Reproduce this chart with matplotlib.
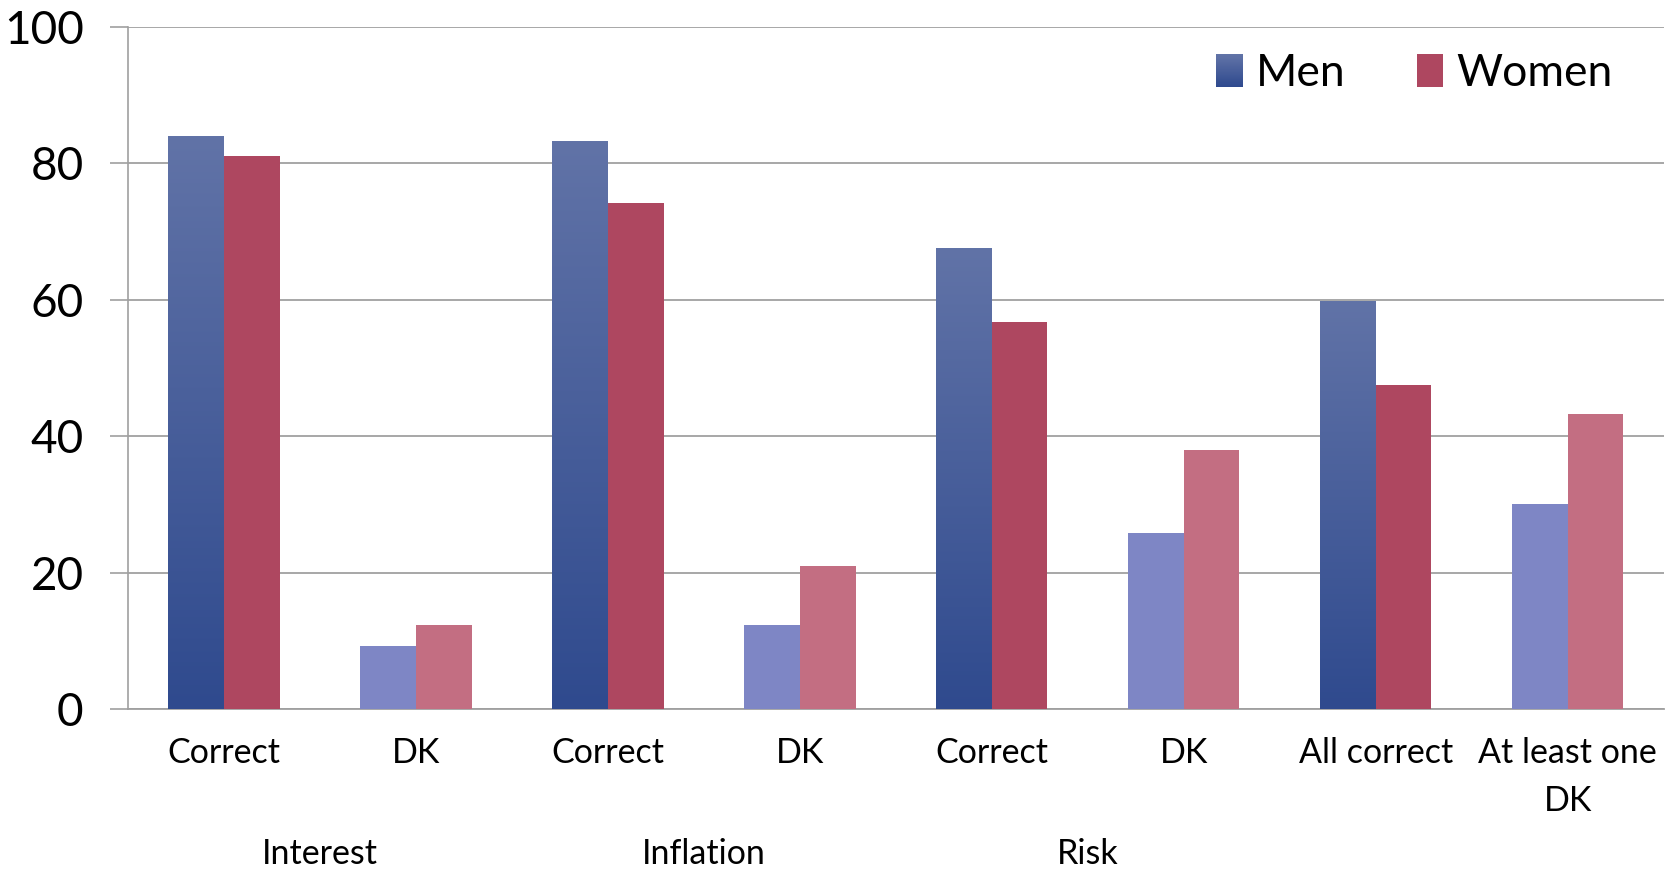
import numpy as np
import matplotlib.pyplot as plt
from matplotlib.colors import LinearSegmentedColormap
from matplotlib.patches import Rectangle
from matplotlib.legend_handler import HandlerBase

plt.rcParams['font.family'] = ['Lato', 'DejaVu Sans']

# --- data ---
categories = ["Correct", "DK", "Correct", "DK", "Correct", "DK", "All correct", "At least one\nDK"]
groups = ["Interest", "Inflation", "Risk"]
men = [83.8, 9.3, 83.2, 12.3, 67.5, 25.8, 59.7, 30.0]
women = [81.0, 12.3, 74.1, 21.0, 56.8, 38.0, 47.5, 43.3]
is_dk = [False, True, False, True, False, True, False, True]

# --- colours ---
men_top, men_bottom = "#6173a7", "#2f4a8e"
women_solid = "#ae4760"
men_dk = "#7e86c5"
women_dk = "#c36e82"
grid_col = "#a0a0a0"

men_cmap = LinearSegmentedColormap.from_list("men", [men_bottom, men_top])


class GradientHandler(HandlerBase):
    """Legend key drawn as a vertical gradient box."""
    def create_artists(self, legend, orig_handle, xdescent, ydescent,
                       width, height, fontsize, trans):
        n = 30
        arts = []
        for i in range(n):
            c = men_cmap(i / (n - 1))
            arts.append(Rectangle((-xdescent, -ydescent + height * i / n), width,
                                  height / n + 0.3, facecolor=c, edgecolor="none",
                                  transform=trans))
        return arts


fig = plt.figure(figsize=(16.72, 8.75), dpi=100)
ax = fig.add_axes([0.0766, 0.1894, 0.9184, 0.7801])

x = np.arange(len(categories))
w = 0.29

grad = np.linspace(0, 1, 256).reshape(-1, 1)
for i in x:
    if is_dk[i]:
        ax.bar(i - w / 2, men[i], w, color=men_dk, zorder=3)
        ax.bar(i + w / 2, women[i], w, color=women_dk, zorder=3)
    else:
        ax.imshow(grad, cmap=men_cmap, origin="lower", aspect="auto",
                  extent=(i - w, i, 0, men[i]), zorder=3)
        ax.bar(i + w / 2, women[i], w, color=women_solid, zorder=3)

ax.set_xlim(-0.5, len(categories) - 0.5)
ax.set_ylim(0, 100)
ax.set_yticks(range(0, 101, 20))
ax.tick_params(axis="y", labelsize=33, length=13, color=grid_col, width=1.2, pad=19)
ax.yaxis.grid(True, color=grid_col, linewidth=1.3, zorder=0)
ax.set_axisbelow(True)

ax.set_xticks(x)
ax.set_xticklabels(categories, fontsize=24.5, linespacing=1.6)
ax.tick_params(axis="x", length=0, pad=20)

for side in ["top", "right"]:
    ax.spines[side].set_visible(False)
ax.spines["left"].set_color(grid_col)
ax.spines["bottom"].set_color(grid_col)
ax.spines["left"].set_linewidth(1.2)
ax.spines["bottom"].set_linewidth(1.3)

# group labels under each Correct/DK pair
for k, g in enumerate(groups):
    ax.text(2 * k + 0.5, -0.212, g, transform=ax.get_xaxis_transform(),
            ha="center", va="center", fontsize=24.5)

men_key = Rectangle((0, 0), 1, 1)
women_key = Rectangle((0, 0), 1, 1, facecolor=women_solid)
ax.legend([men_key, women_key], ["Men", "Women"], handler_map={men_key: GradientHandler()},
          loc="upper right", bbox_to_anchor=(0.993, 1.02), ncol=2, frameon=False,
          fontsize=32, handlelength=0.6, handleheight=0.75, handletextpad=0.3,
          columnspacing=1.6)

fig.savefig("out.png", dpi=100)
